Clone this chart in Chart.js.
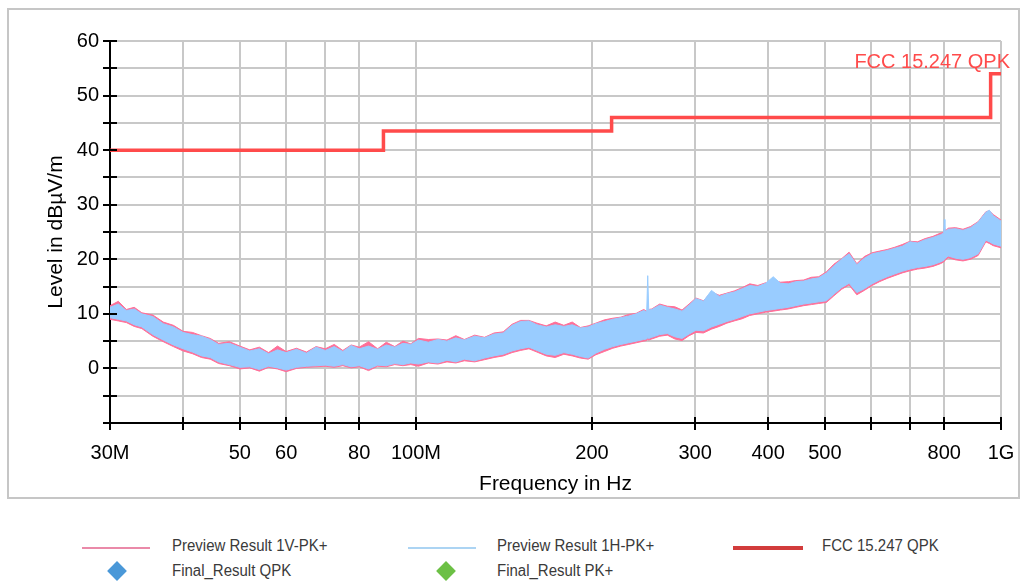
<!DOCTYPE html>
<html>
<head>
<meta charset="utf-8">
<script src="https://cdn.jsdelivr.net/npm/chart.js@4.4.1/dist/chart.umd.min.js"></script>
<style>
  html, body { margin: 0; padding: 0; background: #fff; }
  body { width: 1028px; height: 583px; position: relative; overflow: hidden; font-family: "Liberation Sans", Arial, sans-serif; }
  #frame { position: absolute; left: 7px; top: 8px; width: 1013px; height: 491px; border: 2px solid #c6c6c6; box-sizing: border-box; }
  #chart { position: absolute; left: 0; top: 0; }
  .lg-text { position: absolute; font-family: "Liberation Sans", Arial, sans-serif; font-size: 15px; color: #3a3a3a; line-height: 18px; white-space: nowrap; transform: scaleY(1.15); transform-origin: left center; }
  .lg-line { position: absolute; }
  .lg-diamond { position: absolute; width: 14px; height: 14px; transform: rotate(45deg); }
</style>
</head>
<body>
<div id="frame"></div>
<canvas id="chart" width="1028" height="510"></canvas>
<div id="legend"></div>
<script>
// Frecuencias (MHz) de la envolvente del barrido
const freqMHz = [
  30, 31, 32, 33, 34,
  35.5, 37, 38.5, 40, 41.5,
  43, 44.5, 46, 48, 50,
  52, 54, 56, 58, 60,
  62.5, 65, 67.5, 70, 72.5,
  75, 77.5, 80, 83, 86,
  89, 92, 95, 98, 101,
  105, 109, 113, 117, 121,
  126, 131, 136, 141, 146,
  151, 156, 161, 167, 173,
  179, 185, 191, 197, 203,
  210, 217, 224, 231, 238,
  245, 248, 249, 250, 253, 261, 269,
  277, 285, 293, 301, 310,
  320, 330, 340, 350, 361,
  372, 384, 396, 408, 420,
  433, 446, 460, 474, 488,
  503, 518, 534, 550, 567,
  584, 602, 620, 639, 658,
  678, 699, 720, 742, 765,
  788, 798, 800, 802, 812, 836, 861,
  887, 914, 942, 955, 970,
  1000
];

// Preview Result 1H-PK+ (azul): borde superior / inferior
const hUpper = [
  11.2, 11.8, 10.6, 10.9, 10.0,
  9.5, 8.2, 7.6, 6.6, 6.2,
  5.9, 5.3, 4.4, 4.6, 3.9,
  3.2, 3.6, 2.7, 3.4, 2.9,
  3.5, 2.8, 3.9, 3.3, 4.0,
  3.1, 4.2, 3.6, 4.1, 3.5,
  4.3, 3.9, 4.6, 4.4, 5.2,
  4.8, 5.3, 5.0, 5.6, 5.2,
  5.9, 5.6, 6.3, 6.5, 7.9,
  8.6, 8.7, 8.0, 7.6, 8.0,
  7.7, 8.0, 7.4, 7.6, 8.2,
  8.6, 9.0, 9.3, 9.6, 10.0,
  10.6, 10.4, 17.0, 10.7, 10.8, 11.6, 11.2,
  10.9, 10.5, 11.6, 12.8, 12.3,
  14.3, 13.2, 13.7, 14.0, 14.6,
  15.2, 15.0, 15.6, 16.8, 15.6,
  15.5, 15.9, 16.0, 16.4, 16.6,
  17.5, 18.8, 20.0, 21.0, 19.0,
  20.2, 21.0, 21.3, 21.6, 22.0,
  22.4, 23.2, 23.0, 23.6, 24.0,
  24.5, 24.8, 27.3, 25.0, 25.5, 25.6, 25.3,
  25.8, 26.8, 28.6, 29.0, 28.0,
  27.0
];
const hLower = [
  9.3, 9.0, 8.7, 8.0, 7.6,
  6.2, 5.2, 4.3, 3.6, 3.0,
  2.3, 2.0, 1.2, 0.7, 0.2,
  0.3, -0.2, 0.4, 0.1, -0.3,
  0.2, 0.4, 0.5, 0.6, 0.4,
  0.7, 0.3, 0.5, -0.1, 0.6,
  0.5, 0.9, 0.7, 1.0, 0.8,
  1.2, 1.0, 1.5, 1.2, 1.7,
  1.4, 1.9, 2.3, 2.6, 3.2,
  3.6, 3.9, 3.3, 2.6, 2.4,
  2.9, 2.6, 2.2, 1.9, 2.8,
  3.5, 4.0, 4.4, 4.7, 5.0,
  5.3, 5.4, 5.6, 5.5, 5.7, 6.2, 6.4,
  5.8, 5.5, 6.3, 7.0, 6.9,
  7.6, 8.1, 8.6, 9.0, 9.5,
  10.0, 10.3, 10.6, 10.8, 11.0,
  11.2, 11.5, 11.8, 12.0, 12.2,
  12.4, 13.6, 14.8, 15.6, 13.9,
  14.6, 15.5, 16.2, 16.8, 17.3,
  17.8, 18.2, 18.5, 18.7, 19.0,
  19.5, 19.8, 20.0, 20.1, 20.6, 20.2, 20.0,
  20.3, 21.0, 23.5, 23.2, 22.8,
  22.4
];

// Preview Result 1V-PK+ (rosa): borde superior / inferior
const vUpper = [
  11.5, 12.3, 10.8, 11.2, 10.2,
  9.8, 8.5, 7.9, 6.8, 6.6,
  6.0, 5.5, 4.6, 4.9, 4.1,
  3.4, 3.9, 2.9, 4.1, 3.1,
  3.7, 3.0, 4.0, 3.6, 4.4,
  3.3, 4.3, 3.9, 4.9, 3.6,
  4.8, 4.0, 5.0, 4.5, 5.5,
  5.3, 5.4, 5.2, 6.0, 5.3,
  6.1, 5.7, 6.5, 6.7, 8.1,
  8.8, 8.8, 8.3, 7.8, 8.5,
  7.9, 8.5, 7.5, 7.8, 8.3,
  8.9, 9.2, 9.4, 9.9, 10.1,
  10.8, 10.5, 10.8, 10.8, 10.9, 11.8, 11.4,
  11.3, 10.7, 11.8, 12.9, 12.4,
  14.0, 13.4, 13.8, 14.2, 14.8,
  15.5, 15.2, 15.7, 16.2, 15.8,
  15.9, 16.1, 16.2, 16.7, 16.8,
  17.7, 19.1, 20.1, 21.3, 19.2,
  20.5, 21.2, 21.5, 21.8, 22.2,
  22.7, 23.3, 23.2, 23.8, 24.2,
  24.8, 24.9, 25.6, 25.1, 25.7, 25.8, 25.5,
  26.0, 26.9, 28.7, 28.9, 28.2,
  27.2
];
const vLower = [
  9.0, 8.7, 8.4, 7.7, 7.3,
  5.9, 4.9, 4.0, 3.2, 2.7,
  2.0, 1.7, 0.9, 0.5, -0.1,
  0.1, -0.5, 0.2, -0.1, -0.6,
  0.0, 0.2, 0.3, 0.4, 0.2,
  0.5, 0.1, 0.3, -0.4, 0.4,
  0.3, 0.7, 0.5, 0.7, 0.4,
  1.0, 0.8, 1.2, 1.0, 1.4,
  1.2, 1.6, 2.0, 2.3, 2.9,
  3.3, 3.6, 3.0, 2.3, 2.0,
  2.6, 2.3, 1.9, 1.7, 2.5,
  3.1, 3.7, 4.1, 4.4, 4.7,
  5.0, 5.1, 5.3, 5.2, 5.4, 5.9, 6.1,
  5.4, 5.1, 6.0, 6.6, 6.5,
  7.2, 7.7, 8.3, 8.7, 9.1,
  9.7, 10.0, 10.3, 10.5, 10.7,
  10.9, 11.2, 11.5, 11.7, 11.9,
  12.1, 13.3, 14.5, 15.3, 13.5,
  14.3, 15.2, 15.9, 16.5, 17.0,
  17.5, 17.9, 18.2, 18.4, 18.7,
  19.2, 19.5, 19.7, 19.8, 20.3, 19.9, 19.7,
  20.0, 20.7, 23.2, 22.9, 22.5,
  22.1
];

// Limite FCC 15.247 QPK (escalonado)
const limitFreq = [30, 88, 88, 216, 216, 960, 960, 1000];
const limitLevel = [40, 40, 43.5, 43.5, 46, 46, 54, 54];
const limitName = 'FCC 15.247 QPK';

// Ejes
const xTickValues = [30, 40, 50, 60, 70, 80, 100, 200, 300, 400, 500, 600, 700, 800, 1000];
const xTickLabels = ['30M', '', '50', '60', '', '80', '100M', '200', '300', '400', '500', '', '', '800', '1G'];
const yMin = -10;
const yMax = 60;

// Leyenda
const legendLabels = ['Preview Result 1V-PK+', 'Preview Result 1H-PK+', 'FCC 15.247 QPK', 'Final_Result QPK', 'Final_Result PK+'];

[hUpper, hLower, vUpper, vLower].forEach((arr, i) => {
  if (arr.length !== freqMHz.length) console.error('array ' + i + ' length ' + arr.length + ' != ' + freqMHz.length);
});

const PINK = '#ff6f98';
const BLUE = '#99ccff';
const RED = '#ff4b4b';

function toPoints(xs, ys) {
  return xs.map((x, i) => ({ x: x, y: ys[i] }));
}

/**
 * Marcas de los ejes (cruzan la linea del eje) y etiqueta del limite
 */
const axisMarks = {
  id: 'axisMarks',
  afterDraw(chart) {
    const ctx = chart.ctx;
    const xs = chart.scales.x;
    const ys = chart.scales.y;
    const area = chart.chartArea;
    ctx.save();
    ctx.strokeStyle = '#000';
    ctx.lineWidth = 2;
    ctx.beginPath();
    ys.ticks.forEach(t => {
      const py = Math.round(ys.getPixelForValue(t.value));
      ctx.moveTo(area.left - 7, py);
      ctx.lineTo(area.left + 7, py);
    });
    xs.ticks.forEach(t => {
      const px = Math.round(xs.getPixelForValue(t.value));
      ctx.moveTo(px, area.bottom - 6);
      ctx.lineTo(px, area.bottom + 7);
    });
    ctx.stroke();

    // etiqueta del limite
    ctx.fillStyle = RED;
    ctx.font = '20px "Liberation Sans", Arial, sans-serif';
    ctx.textAlign = 'right';
    ctx.textBaseline = 'alphabetic';
    ctx.fillText(limitName, area.right + 9, ys.getPixelForValue(limitLevel[limitLevel.length - 1]) - 6);
    ctx.restore();
  }
};

const tickFont = { family: '"Liberation Sans", Arial, sans-serif', size: 20 };

const chart = new Chart(document.getElementById('chart').getContext('2d'), {
  type: 'line',
  data: {
    datasets: [
      {
        label: 'Preview Result 1V-PK+ low',
        data: toPoints(freqMHz, vLower),
        borderColor: PINK, borderWidth: 1, pointRadius: 0, fill: false, order: 3
      },
      {
        label: 'Preview Result 1V-PK+',
        data: toPoints(freqMHz, vUpper),
        borderColor: PINK, borderWidth: 1, pointRadius: 0, backgroundColor: PINK, fill: '-1', order: 3
      },
      {
        label: 'Preview Result 1H-PK+ low',
        data: toPoints(freqMHz, hLower),
        borderColor: BLUE, borderWidth: 1, pointRadius: 0, fill: false, order: 2
      },
      {
        label: 'Preview Result 1H-PK+',
        data: toPoints(freqMHz, hUpper),
        borderColor: BLUE, borderWidth: 1, pointRadius: 0, backgroundColor: BLUE, fill: '-1', order: 2
      },
      {
        label: limitName,
        data: toPoints(limitFreq, limitLevel),
        borderColor: RED, borderWidth: 3.5, pointRadius: 0, fill: false, order: 1,
        clip: 4
      }
    ]
  },
  options: {
    responsive: false,
    animation: false,
    layout: { padding: { left: 0, top: 41, right: 27, bottom: 0 } },
    plugins: {
      legend: { display: false },
      tooltip: { enabled: false }
    },
    scales: {
      x: {
        type: 'logarithmic',
        min: 30,
        max: 1000,
        afterBuildTicks: scale => { scale.ticks = xTickValues.map(v => ({ value: v })); },
        afterFit: scale => {
          scale.height = 87;
          scale.paddingLeft = 0;
          scale.paddingRight = 0;
        },
        ticks: {
          autoSkip: false,
          maxRotation: 0,
          padding: 18,
          color: '#000',
          font: tickFont,
          callback: value => {
            const i = xTickValues.indexOf(value);
            return i >= 0 ? xTickLabels[i] : '';
          }
        },
        grid: { color: '#c8c8c8', lineWidth: 2, drawTicks: false },
        border: { display: true, color: '#000', width: 2 },
        title: {
          display: true,
          text: 'Frequency in Hz',
          color: '#000',
          font: { family: '"Liberation Sans", Arial, sans-serif', size: 21 },
          padding: { top: 0, bottom: 13 }
        }
      },
      y: {
        type: 'linear',
        min: yMin,
        max: yMax,
        afterFit: scale => {
          scale.width = 110;
          scale.paddingTop = 0;
          scale.paddingBottom = 0;
        },
        ticks: {
          stepSize: 5,
          padding: 11,
          color: '#000',
          font: tickFont,
          callback: value => (value >= 0 && value % 10 === 0 ? String(value) : '')
        },
        grid: { color: '#c8c8c8', lineWidth: 2, drawTicks: false },
        border: { display: true, color: '#000', width: 2 },
        title: {
          display: true,
          text: 'Level in dBµV/m',
          color: '#000',
          font: { family: '"Liberation Sans", Arial, sans-serif', size: 21 },
          padding: { top: 44, bottom: 0 }
        }
      }
    }
  },
  plugins: [axisMarks]
});

// Leyenda en HTML, debajo del marco
(function buildLegend() {
  const legend = document.getElementById('legend');
  const items = [
    { text: legendLabels[0], tx: 172, ty: 536, kind: 'line', color: '#ea8aa9', x: 82, w: 68, h: 2, y: 547 },
    { text: legendLabels[1], tx: 497, ty: 536, kind: 'line', color: '#acd4f3', x: 408, w: 68, h: 2, y: 547 },
    { text: legendLabels[2], tx: 822, ty: 536, kind: 'line', color: '#d23c3c', x: 733, w: 70, h: 4, y: 546 },
    { text: legendLabels[3], tx: 172, ty: 561, kind: 'diamond', color: '#4a98d8', x: 117, y: 571 },
    { text: legendLabels[4], tx: 497, ty: 561, kind: 'diamond', color: '#6cc045', x: 446, y: 571 }
  ];
  items.forEach(it => {
    const t = document.createElement('div');
    t.className = 'lg-text';
    t.style.left = it.tx + 'px';
    t.style.top = it.ty + 'px';
    t.textContent = it.text;
    legend.appendChild(t);
    const m = document.createElement('div');
    if (it.kind === 'line') {
      m.className = 'lg-line';
      m.style.left = it.x + 'px';
      m.style.top = it.y + 'px';
      m.style.width = it.w + 'px';
      m.style.height = it.h + 'px';
      m.style.background = it.color;
    } else {
      m.className = 'lg-diamond';
      m.style.left = (it.x - 7) + 'px';
      m.style.top = (it.y - 7) + 'px';
      m.style.background = it.color;
    }
    legend.appendChild(m);
  });
})();
</script>
</body>
</html>
